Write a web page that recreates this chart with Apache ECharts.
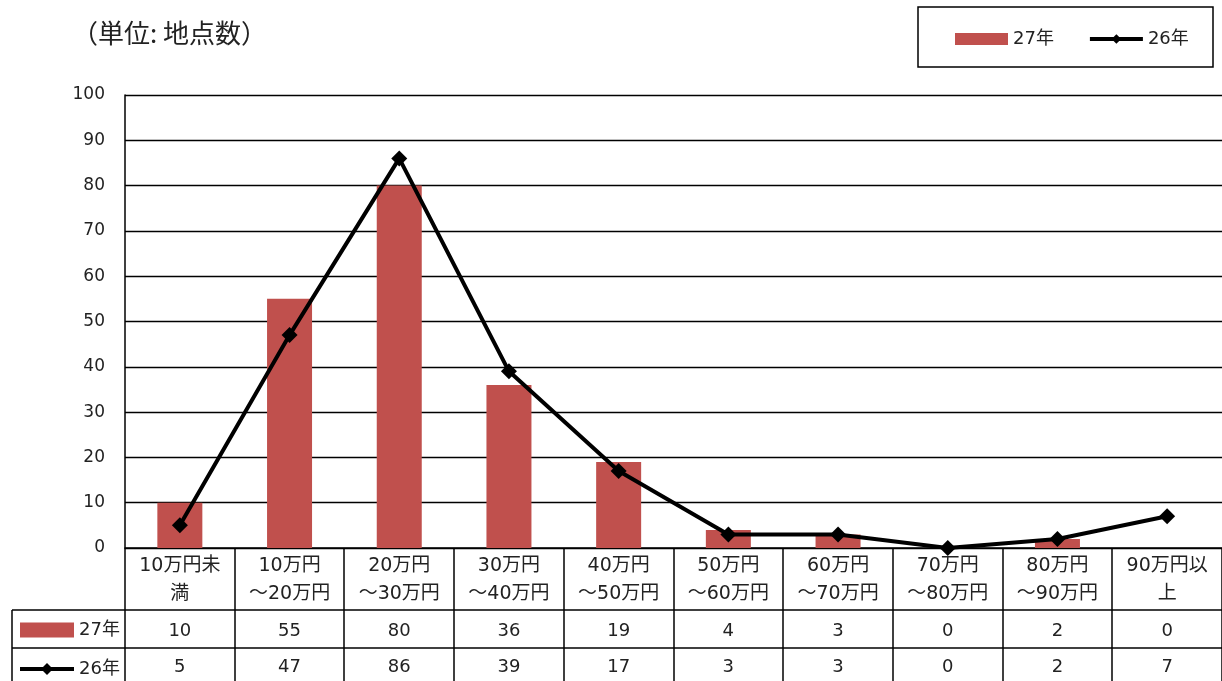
<!DOCTYPE html>
<html><head><meta charset="utf-8">
<script src="https://cdn.jsdelivr.net/npm/echarts@6/dist/echarts.min.js"></script>
<style>html,body{margin:0;padding:0;background:#fff}#c{width:1222px;height:681px}</style>
</head><body><div id="c"></div>
<script>
const categories = ['10万円未\n満','10万円\n～20万円','20万円\n～30万円','30万円\n～40万円','40万円\n～50万円','50万円\n～60万円','60万円\n～70万円','70万円\n～80万円','80万円\n～90万円','90万円以\n上'];
const values27 = [10,55,80,36,19,4,3,0,2,0];
const values26 = [5,47,86,39,17,3,3,0,2,7];
const yTicks = {min:0, max:100, interval:10};
const unitLabel = '（単位: 地点数）';
const name27 = '27年', name26 = '26年';

const FONT = '"DejaVu Sans", "Noto Sans CJK JP", sans-serif';
const CJK = '"Noto Sans CJK JP", sans-serif';
const chart = echarts.init(document.getElementById('c'));
const gridLeft = 125, gridTop = 95, gridBottom = 133;

const opt = {
  animation:false,
  textStyle:{fontFamily:FONT},
  grid:{left:gridLeft, right:0, top:gridTop, bottom:gridBottom, containLabel:false},
  legend:[{
    data:[{name:name27, icon:'rect'}, name26], left:955, top:30, itemWidth:53, itemHeight:12, itemGap:34,
    textStyle:{fontSize:18, color:'#222', fontFamily:FONT}, padding:0, lineStyle:{width:4}
  },{
    data:[{name:name27, icon:'rect'}, name26], orient:'vertical', left:18, top:621, itemWidth:54, itemHeight:15, itemGap:21,
    textStyle:{fontSize:18, color:'#222', fontFamily:FONT}, padding:0, selectedMode:false, lineStyle:{width:4}
  }],
  xAxis:[{
    type:'category', data:categories, position:'bottom',
    axisLine:{lineStyle:{color:'#000', width:1.5}}, axisTick:{show:false},
    axisLabel:{fontSize:19, color:'#222', lineHeight:28, margin:4, interval:0, fontFamily:FONT}
  },{
    type:'category', data:values27.map(String), position:'bottom', offset:74, gridIndex:0,
    axisLine:{show:false}, axisTick:{show:false},
    axisLabel:{fontSize:18, color:'#222', margin:0, interval:0, fontFamily:FONT}
  },{
    type:'category', data:values26.map(String), position:'bottom', offset:110, gridIndex:0,
    axisLine:{show:false}, axisTick:{show:false},
    axisLabel:{fontSize:18, color:'#222', margin:0, interval:0, fontFamily:FONT}
  }],
  yAxis:{
    type:'value', min:yTicks.min, max:yTicks.max, interval:yTicks.interval,
    axisLine:{show:true, lineStyle:{color:'#000', width:1.5}}, axisTick:{show:false},
    axisLabel:{fontSize:17, color:'#222', margin:20, fontFamily:FONT, padding:[8,0,0,0]},
    splitLine:{lineStyle:{color:'#000', width:1.3}}
  },
  series:[{
    name:name27, type:'bar', data:values27, barWidth:45,
    itemStyle:{color:'#C0504D'}
  },{
    name:name26, type:'line', data:values26, symbol:'diamond', symbolSize:16,
    lineStyle:{color:'#000', width:4}, itemStyle:{color:'#000'}, z:5
  }]
};
chart.setOption(opt);

function drawTable(){
  const x0 = chart.convertToPixel({xAxisIndex:0}, 0);
  const x1 = chart.convertToPixel({xAxisIndex:0}, 1);
  const band = x1 - x0;
  const yBase = chart.convertToPixel({yAxisIndex:0}, 0);
  const rowTop1 = 610, rowTop2 = 648, bottom = 700;
  const els = [];
  const ls = {stroke:'#000', lineWidth:1.5};
  for (let i=0;i<=categories.length;i++){
    const x = Math.round(x0 - band/2 + i*band);
    els.push({type:'line', shape:{x1:x, y1:yBase, x2:x, y2:bottom}, style:ls, silent:true});
  }
  els.push({type:'line', shape:{x1:12, y1:rowTop1, x2:1222, y2:rowTop1}, style:ls});
  els.push({type:'line', shape:{x1:12, y1:rowTop2, x2:1222, y2:rowTop2}, style:ls});
  els.push({type:'line', shape:{x1:12, y1:rowTop1, x2:12, y2:bottom}, style:ls});
  els.push({type:'rect', shape:{x:918, y:7, width:295, height:60}, style:{fill:null, stroke:'#000', lineWidth:1.5}});
  els.push({type:'text', left:72, top:20, style:{text:unitLabel, fontSize:26, fontFamily:CJK, fill:'#222'}});
  chart.setOption({graphic:els});
}
drawTable();
</script></body></html>
